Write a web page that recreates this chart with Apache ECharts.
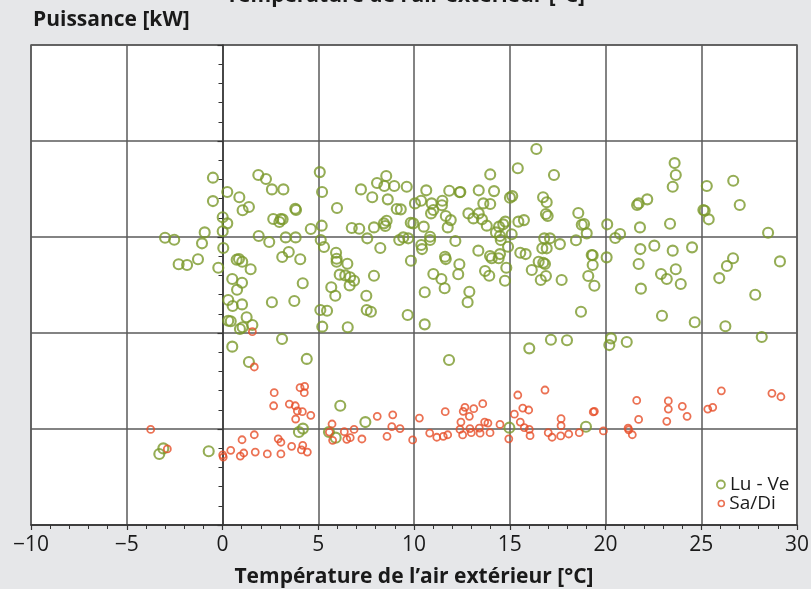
<!DOCTYPE html>
<html>
<head>
<meta charset="utf-8">
<script src="https://cdn.jsdelivr.net/npm/echarts@6/dist/echarts.min.js"></script>
<style>
  html, body { margin: 0; padding: 0; background: #e6e7e9; }
  #chart { width: 811px; height: 589px; }
</style>
</head>
<body>
<div id="chart"></div>
<script>
// Lu-Ve : [température °C, puissance]
const luVe = [
    [-3.00,149.6],[-2.52,148.6],[-2.29,135.8],[-1.85,135.4],[-1.28,138.4],
    [-3.30,37.0],[-3.09,39.9],[-0.72,38.4],[0.51,92.9],[1.38,84.9],[3.11,96.9],[4.40,86.5],[6.15,62.1],[7.46,53.6],
    [11.83,85.9],[3.99,48.4],[4.20,50.2],[5.56,48.4],[5.91,45.5],[14.98,50.7],[18.98,51.2],
    [-0.50,180.9],[1.87,182.3],[2.27,180.2],[2.58,174.8],[3.18,174.8],[0.25,173.4],[-0.50,168.7],[0.88,170.7],
    [1.05,163.9],[1.38,165.6],[3.80,164.7],[3.84,164.1],[0.01,160.3],[0.25,157.1],[2.65,159.4],[3.04,159.4],
    [2.97,157.8],[3.14,159.2],[-0.93,152.4],[0.01,153.0],[-1.07,146.7],[1.89,150.5],[2.44,147.4],[3.30,149.8],
    [3.82,149.8],[4.61,154.2],[5.08,183.8],[5.20,173.4],[5.98,165.1],[5.18,155.9],[5.13,148.4],[5.30,144.8],
    [0.04,144.3],[-0.22,134.0],[0.74,138.2],[0.86,138.5],[1.03,137.1],[1.47,133.2],[3.12,139.6],[3.46,142.2],
    [4.06,138.4],[0.51,128.1],[1.02,126.2],[0.76,122.5],[4.19,125.9],[0.30,117.2],[0.53,114.1],[1.02,114.9],
    [2.58,116.0],[3.75,116.7],[0.30,106.4],[0.43,106.1],[1.26,108.2],[0.91,102.1],[1.05,103.0],[1.56,104.2],
    [5.11,112.0],[5.46,111.6],[5.21,103.3],[6.54,103.0],[5.68,123.8],[5.89,119.4],[5.93,141.8],[5.96,138.7],
    [5.96,137.1],[6.52,136.1],[6.12,130.4],[6.41,130.0],[6.66,129.0],[6.87,127.2],[6.64,124.8],[7.91,129.8],
    [7.51,119.4],[7.53,112.0],[7.75,111.1],[6.75,154.7],[7.14,154.3],[7.91,155.0],[7.56,149.3],[8.24,144.3],
    [7.23,174.8],[7.82,170.7],[8.07,178.1],[8.55,181.8],[8.45,176.6],[8.97,176.6],[8.63,169.6],[9.62,176.2],
    [8.43,157.1],[8.50,155.7],[8.57,158.5],[9.10,164.6],[9.31,164.4],[9.23,148.4],[9.44,149.8],[9.70,149.3],
    [9.83,157.4],[9.96,157.1],[10.51,155.4],[9.84,137.6],[9.67,109.4],[10.56,104.5],[10.56,121.2],[10.05,167.5],
    [10.37,168.9],[10.64,174.3],[10.92,167.5],[10.89,162.3],[11.01,164.1],[11.48,168.9],[11.46,166.5],[11.66,160.9],
    [11.84,174.1],[12.39,173.3],[12.42,173.4],[11.92,158.8],[11.76,155.0],[13.38,174.3],[12.84,162.3],[13.10,159.7],
    [13.38,162.3],[10.38,145.8],[10.42,143.7],[10.84,150.1],[10.84,148.4],[12.16,147.9],[13.36,142.9],[11.62,139.7],
    [11.66,138.5],[12.37,135.8],[12.31,130.6],[11.01,130.7],[11.43,128.1],[11.60,123.3],[12.89,121.5],[12.80,116.0],
    [16.39,195.8],[15.42,185.8],[13.98,182.6],[17.31,182.3],[14.18,173.9],[23.61,188.5],[23.67,182.3],[23.51,176.2],
    [25.29,176.6],[26.67,179.3],[27.01,166.7],[22.18,169.6],[21.65,166.7],[21.73,167.5],[16.74,170.7],[16.93,168.1],
    [15.01,170.5],[15.13,171.3],[13.62,167.5],[13.98,167.2],[16.89,162.0],[16.98,160.9],[18.58,162.5],[25.11,164.1],
    [25.18,163.7],[25.39,159.2],[23.37,156.9],[21.80,155.0],[20.09,156.6],[18.76,156.4],[18.88,156.8],[19.02,151.9],
    [18.46,148.3],[20.76,151.6],[20.51,149.5],[28.49,152.2],[15.45,158.0],[15.74,158.8],[14.77,158.0],[14.66,156.6],
    [14.44,155.4],[13.80,155.9],[13.55,159.2],[14.28,152.4],[14.49,150.5],[15.10,151.4],[14.53,148.4],[14.91,144.9],
    [16.80,149.3],[17.10,149.3],[17.62,146.3],[16.70,144.1],[16.93,144.1],[15.55,141.8],[15.83,141.1],[14.49,141.1],
    [13.97,140.1],[14.06,138.9],[14.42,138.9],[14.82,134.0],[13.71,132.3],[13.93,129.8],[14.75,127.2],[16.15,132.8],
    [16.51,137.1],[16.75,136.6],[16.84,135.9],[16.62,127.6],[16.89,129.7],[17.71,127.6],[19.28,140.6],[19.33,140.5],
    [19.33,135.4],[20.06,139.4],[19.10,129.7],[19.42,124.6],[18.72,111.1],[21.82,143.7],[22.55,145.5],[23.51,142.9],
    [24.52,144.6],[21.73,135.9],[22.90,130.7],[23.20,128.1],[23.67,133.2],[23.93,125.5],[21.85,123.1],[26.66,138.9],
    [26.34,134.9],[25.94,128.6],[29.11,137.3],[27.82,119.9],[22.95,109.0],[24.66,105.6],[26.26,103.5],[28.16,97.9],
    [17.15,96.5],[17.99,96.2],[20.29,97.2],[20.20,93.7],[21.11,95.3],[16.02,92.0]
];

// Sa/Di : [température °C, puissance]
const saDi = [
    [-3.75,49.8],[-2.88,39.6],[1.56,100.7],[1.66,82.3],[2.70,68.9],[2.67,62.1],[3.49,63.0],[3.80,62.1],
    [4.05,71.5],[4.29,72.2],[4.27,68.9],[3.91,59.4],[4.17,59.0],[4.61,57.1],[3.82,55.2],[5.72,52.6],
    [5.58,48.4],[5.75,44.1],[6.36,48.6],[6.87,49.8],[6.49,44.6],[6.67,45.5],[7.28,44.8],[8.08,56.6],
    [8.89,57.4],[8.84,51.2],[9.27,50.2],[8.59,46.2],[9.93,44.3],[10.28,55.7],[10.82,47.9],[11.19,45.7],
    [11.53,46.2],[11.76,47.0],[11.63,59.0],[12.57,59.2],[12.66,61.3],[12.45,53.6],[12.40,49.8],[12.54,46.9],
    [1.02,44.4],[1.66,47.0],[0.43,38.9],[0.01,36.5],[0.04,35.4],[0.93,35.9],[1.11,37.5],[1.71,38.0],
    [2.34,37.0],[3.05,37.0],[2.91,44.9],[3.05,43.1],[3.61,41.0],[4.19,41.5],[4.12,39.1],[4.43,38.0],
    [13.12,60.6],[13.59,63.2],[12.89,56.6],[12.92,50.2],[12.99,48.1],[13.45,47.8],[13.41,50.5],[13.69,53.6],
    [13.86,53.1],[13.97,48.1],[14.49,52.4],[14.95,44.9],[15.24,57.7],[15.42,67.7],[15.68,60.9],[15.99,59.9],
    [15.55,53.6],[15.76,50.7],[16.02,49.8],[16.06,46.5],[16.84,70.3],[17.01,48.1],[17.21,45.7],[17.68,55.4],
    [17.68,51.7],[17.66,46.4],[18.08,47.4],[18.63,48.1],[19.36,58.9],[19.42,59.2],[19.89,49.0],[21.18,50.5],
    [21.21,49.6],[21.40,47.0],[21.63,64.9],[21.73,55.0],[23.28,64.6],[23.28,60.4],[23.20,54.0],[24.01,61.8],
    [24.26,56.6],[25.34,60.4],[25.60,61.3],[26.05,69.9],[28.69,68.6],[29.16,66.8]
];

const xTitle = 'Température de l’air extérieur [°C]';
const yTitle = 'Puissance [kW]';
const font = '"Open Sans", "Noto Sans", sans-serif';

const chart = echarts.init(document.getElementById('chart'));
const option = {
    backgroundColor: '#e6e7e9',
    textStyle: { fontFamily: font },
    title: [{
        text: yTitle,
        left: 28,
        top: 5,
        textStyle: { fontSize: 21, fontWeight: 'bold', color: '#1a1a1a', fontFamily: font }
    }, {
        text: xTitle,
        left: 'center',
        top: -19,
        textStyle: { fontSize: 21, fontWeight: 'bold', color: '#1a1a1a', fontFamily: font }
    }],
    legend: [{
        data: ['Lu - Ve'],
        orient: 'vertical',
        left: 711,
        top: 470,
        icon: 'circle',
        itemWidth: 8,
        itemHeight: 8,
        itemStyle: { color: 'rgba(0,0,0,0)', borderColor: '#7a982a', borderWidth: 1.8 },
        textStyle: { fontSize: 19, color: '#1a1a1a', fontFamily: font }
    }, {
        data: ['Sa/Di'],
        orient: 'vertical',
        left: 712.5,
        top: 489,
        icon: 'circle',
        itemWidth: 6,
        itemHeight: 6,
        itemStyle: { color: 'rgba(0,0,0,0)', borderColor: '#e64e28', borderWidth: 1.6 },
        textStyle: { fontSize: 19, color: '#1a1a1a', fontFamily: font }
    }],
    grid: {
        left: 31,
        right: 14,
        top: 45,
        bottom: 64,
        containLabel: false,
        outerBoundsMode: 'none',
        show: true,
        backgroundColor: '#ffffff',
        borderColor: '#5a5a5a',
        borderWidth: 1.5
    },
    xAxis: {
        type: 'value',
        min: -10,
        max: 30,
        interval: 5,
        name: xTitle,
        nameLocation: 'middle',
        nameGap: 42,
        nameTextStyle: { fontSize: 21, fontWeight: 'bold', color: '#1a1a1a', fontFamily: font },
        axisLine: { show: true, lineStyle: { color: '#333', width: 1.5 } },
        axisTick: { show: true, inside: false, length: 5, lineStyle: { color: '#333', width: 1.2 } },
        minorTick: { show: true, splitNumber: 5, length: 4, lineStyle: { color: '#333', width: 1 } },
        axisLabel: {
            fontSize: 21,
            color: '#1a1a1a',
            margin: 10,
            fontFamily: font,
            formatter: function (v) { return v < 0 ? '\u2212' + Math.abs(v) : String(v); }
        },
        splitLine: { show: true, lineStyle: { color: '#5a5a5a', width: 1.5 } }
    },
    yAxis: {
        type: 'value',
        min: 0,
        max: 250,
        interval: 50,
        axisLine: { show: true, lineStyle: { color: '#333', width: 1.5 } },
        axisTick: { show: true, inside: false, length: 5, lineStyle: { color: '#333', width: 1.2 } },
        minorTick: { show: true, splitNumber: 5, length: 4, lineStyle: { color: '#333', width: 1 } },
        axisLabel: { show: false },
        splitLine: { show: true, lineStyle: { color: '#5a5a5a', width: 1.5 } }
    },
    series: [{
        name: 'Lu - Ve',
        type: 'scatter',
        symbol: 'circle',
        symbolSize: 10,
        itemStyle: { color: 'rgba(0,0,0,0)', borderColor: '#7a982a', borderWidth: 2.1 },
        data: luVe
    }, {
        name: 'Sa/Di',
        type: 'scatter',
        symbol: 'circle',
        symbolSize: 7,
        itemStyle: { color: 'rgba(0,0,0,0)', borderColor: '#e64e28', borderWidth: 1.8 },
        data: saDi
    }]
};
chart.setOption(option);
</script>
</body>
</html>
